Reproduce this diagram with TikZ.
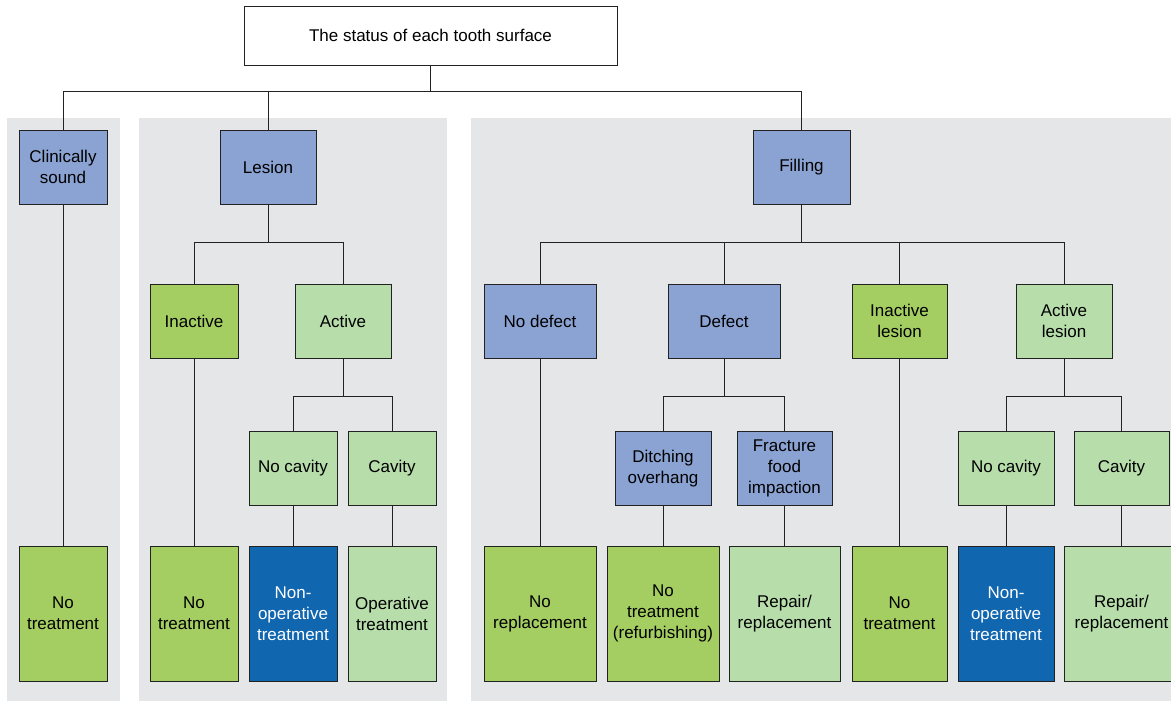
\documentclass[tikz,border=0pt]{standalone}
\usepackage{fontspec}
\setmainfont{Liberation Sans}
\usetikzlibrary{positioning}

\definecolor{slate}{HTML}{8BA3D3}
\definecolor{grass}{HTML}{A4CD62}
\definecolor{mint}{HTML}{B7DDAB}
\definecolor{navy}{HTML}{1166B0}
\definecolor{panel}{HTML}{E5E6E8}
\definecolor{ink}{HTML}{222222}

\tikzset{
  box/.style={draw=ink, line width=0.9pt, align=center, inner sep=0pt,
    font=\fontsize{17}{21}\selectfont},
  wd/.style={minimum width=#1pt},
  lvl/.style={minimum height=74pt},
  leaf/.style={minimum height=135pt},
  sbox/.style={box, fill=slate},
  gbox/.style={box, fill=grass},
  mbox/.style={box, fill=mint},
  nbox/.style={box, fill=navy, text=white},
  fork/.style={to path={(\tikztostart.south) -- ++(0,-#1) -| (\tikztotarget.north)}}
}

\begin{document}
\begin{tikzpicture}[x=1pt, y=1pt,
    every edge/.style={draw=ink, line width=0.9pt}]
            \useasboundingbox (0,0) rectangle (1171,-701);
            % grey panels
            \fill[panel] (7,-118) rectangle (120,-701);
            \fill[panel] (139,-118) rectangle (447,-701);
            \fill[panel] (471,-118) rectangle (1180,-701);

            \node (0) [box, fill=white, wd=373, minimum height=59pt] at (430.5,-35.5) {The status of each tooth surface};
            \node (1) [sbox, lvl, wd=88] at (63,-167) {Clinically\\sound};
            \node (2) [sbox, lvl, wd=96] at (268,-167) {Lesion};
            \node (3) [sbox, lvl, wd=97] at (801.5,-167) {Filling};
            \node (4) [gbox, lvl, wd=88] at (194,-321) {Inactive};
            \node (5) [mbox, lvl, wd=96] at (343,-321) {Active};
            \node (6) [mbox, lvl, wd=88] at (293,-468.5) {No cavity};
            \node (7) [mbox, lvl, wd=88] at (392,-468.5) {Cavity};
            \node (8) [sbox, lvl, wd=112] at (540,-321) {No defect};
            \node (9) [sbox, lvl, wd=112] at (724,-321) {Defect};
            \node (10) [gbox, lvl, wd=95] at (899.5,-321) {Inactive\\lesion};
            \node (11) [mbox, lvl, wd=96] at (1064,-321) {Active\\lesion};
            \node (12) [sbox, lvl, wd=96] at (663,-468.5) {Ditching\\overhang};
            \node (13) [sbox, lvl, wd=95] at (784.5,-468.5) {Fracture\\food\\impaction};
            \node (14) [mbox, lvl, wd=96] at (1006,-468.5) {No cavity};
            \node (15) [mbox, lvl, wd=95] at (1121.5,-468.5) {Cavity};

            % outcomes
            \node (16) [gbox, leaf, wd=88] at (63,-613.5) {No\\treatment};
            \node (17) [gbox, leaf, wd=88] at (194,-613.5) {No\\treatment};
            \node (18) [nbox, leaf, wd=88] at (293,-613.5) {Non-\\operative\\treatment};
            \node (19) [mbox, leaf, wd=88] at (392,-613.5) {Operative\\treatment};
            \node (20) [gbox, leaf, wd=112] at (540,-613.5) {No\\replacement};
            \node (21) [gbox, leaf, wd=112] at (663,-613.5) {No\\treatment\\(refurbishing)};
            \node (22) [mbox, leaf, wd=111] at (784.5,-613.5) {Repair/\\replacement};
            \node (23) [gbox, leaf, wd=95] at (899.5,-613.5) {No\\treatment};
            \node (24) [nbox, leaf, wd=96] at (1006,-613.5) {Non-\\operative\\treatment};
            \node (25) [mbox, leaf, wd=115] at (1121.5,-613.5) {Repair/\\replacement};

            \path
            (0) edge[fork=26] (1)
            (0) edge[fork=26] (2)
            (0) edge[fork=26] (3)
            (2) edge[fork=38] (4)
            (2) edge[fork=38] (5)
            (5) edge[fork=38] (6)
            (5) edge[fork=38] (7)
            (3) edge[fork=38] (8)
            (3) edge[fork=38] (9)
            (3) edge[fork=38] (10)
            (3) edge[fork=38] (11)
            (9) edge[fork=38] (12)
            (9) edge[fork=38] (13)
            (11) edge[fork=38] (14)
            (11) edge[fork=38] (15)
            (1) edge (16)
            (4) edge (17)
            (6) edge (18)
            (7) edge (19)
            (8) edge (20)
            (12) edge (21)
            (13) edge (22)
            (10) edge (23)
            (14) edge (24)
            (15) edge (25);

        \end{tikzpicture}
\end{document}
